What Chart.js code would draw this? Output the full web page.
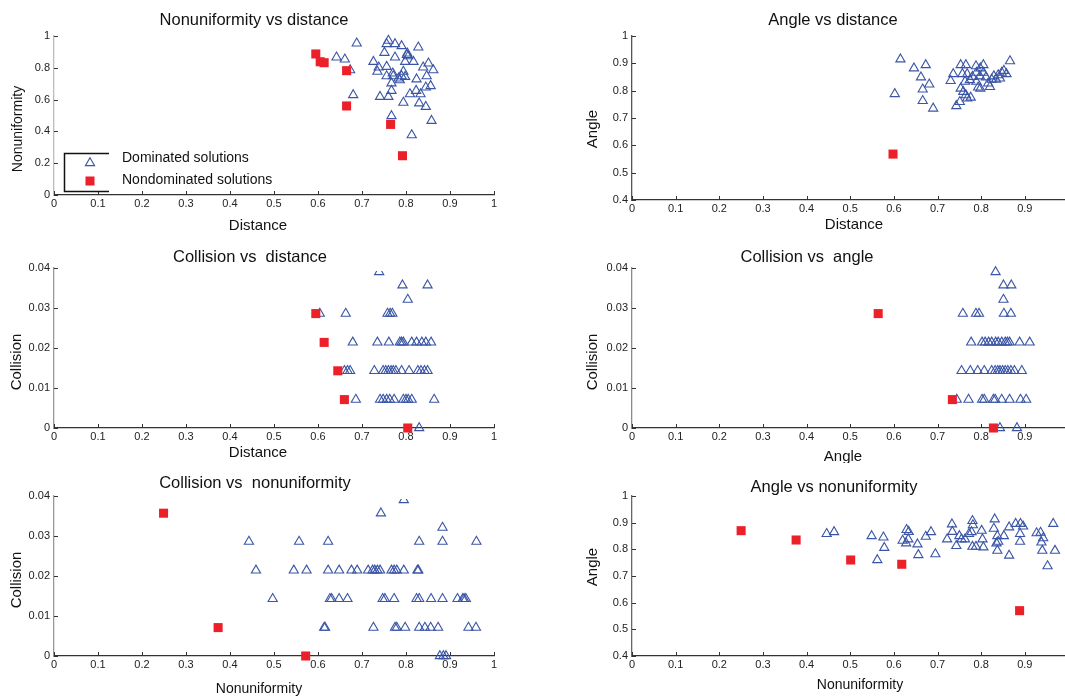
<!DOCTYPE html>
<html><head><meta charset="utf-8">
<script src="https://cdn.jsdelivr.net/npm/chart.js@4.4.0/dist/chart.umd.min.js"></script>
<style>
html,body{margin:0;padding:0;background:#fff;}
body{width:1065px;height:696px;position:relative;overflow:hidden;}
canvas{position:absolute;}
</style></head><body>
<canvas id="c1"></canvas><canvas id="c2"></canvas><canvas id="c3"></canvas>
<canvas id="c4"></canvas><canvas id="c5"></canvas><canvas id="c6"></canvas>
<script>
// ---------- tick values & labels ----------
const unitTicks = [0,0.1,0.2,0.3,0.4,0.5,0.6,0.7,0.8,0.9,1];
const unitTickLabels = ['0','0.1','0.2','0.3','0.4','0.5','0.6','0.7','0.8','0.9','1'];
const rightXTicks = [0,0.1,0.2,0.3,0.4,0.5,0.6,0.7,0.8,0.9];
const rightXTickLabels = ['0','0.1','0.2','0.3','0.4','0.5','0.6','0.7','0.8','0.9'];
const angleTicks = [0.4,0.5,0.6,0.7,0.8,0.9,1];
const angleTickLabels = ['0.4','0.5','0.6','0.7','0.8','0.9','1'];
const unitYTicks = [0,0.2,0.4,0.6,0.8,1];
const unitYTickLabels = ['0','0.2','0.4','0.6','0.8','1'];
const collTicks = [0,0.01,0.02,0.03,0.04];
const collTickLabels = ['0','0.01','0.02','0.03','0.04'];
const seriesNames = ['Dominated solutions','Nondominated solutions'];

// ---------- Nonuniformity vs distance : [distance, nonuniformity] ----------
const nudDominated = [[0.688,0.954],[0.760,0.971],[0.756,0.950],[0.775,0.950],[0.790,0.937],[0.828,0.929],
 [0.751,0.895],[0.775,0.866],[0.803,0.891],[0.805,0.874],[0.802,0.881],[0.817,0.838],[0.642,0.866],
 [0.661,0.853],[0.673,0.786],[0.726,0.838],[0.738,0.803],[0.735,0.776],[0.756,0.807],[0.771,0.748],
 [0.756,0.748],[0.767,0.703],[0.783,0.734],[0.790,0.748],[0.794,0.776],[0.767,0.656],[0.760,0.618],
 [0.741,0.618],[0.680,0.629],[0.824,0.728],[0.851,0.828],[0.839,0.803],[0.862,0.786],[0.847,0.748],
 [0.856,0.686],[0.845,0.677],[0.823,0.656],[0.809,0.635],[0.833,0.635],[0.794,0.581],[0.830,0.577],
 [0.845,0.555],[0.767,0.497],[0.858,0.467],[0.813,0.377],[0.798,0.838],[0.786,0.723],[0.798,0.744],[0.770,0.765]];
const nudNondominated = [[0.595,0.887],[0.605,0.838],[0.614,0.832],[0.665,0.782],[0.665,0.560],[0.765,0.444],[0.792,0.247]];

// ---------- Angle vs distance : [distance, angle] ----------
const advDominated = [[0.615,0.915],[0.646,0.882],[0.673,0.894],[0.662,0.849],[0.681,0.823],[0.666,0.805],
 [0.602,0.788],[0.666,0.763],[0.690,0.735],[0.743,0.744],[0.768,0.772],[0.736,0.861],[0.730,0.836],
 [0.753,0.894],[0.765,0.894],[0.788,0.890],[0.805,0.894],[0.866,0.908],[0.753,0.808],[0.759,0.796],
 [0.765,0.784],[0.776,0.775],[0.757,0.861],[0.768,0.861],[0.763,0.833],[0.774,0.839],[0.780,0.851],
 [0.789,0.866],[0.798,0.882],[0.797,0.853],[0.805,0.866],[0.811,0.849],[0.798,0.808],[0.789,0.833],
 [0.816,0.827],[0.824,0.841],[0.829,0.853],[0.839,0.857],[0.847,0.866],[0.852,0.873],[0.858,0.861],
 [0.834,0.841],[0.820,0.814],[0.843,0.845],[0.751,0.759],[0.793,0.812]];
const advNondominated = [[0.598,0.568]];

// ---------- Collision vs distance : [distance, collision] ----------
const cdDominated = [[0.739,0.0390],[0.792,0.0357],[0.849,0.0357],[0.804,0.0321],
 [0.604,0.0286],[0.663,0.0286],[0.758,0.0286],[0.764,0.0286],[0.769,0.0286],
 [0.679,0.0214],[0.735,0.0214],[0.761,0.0214],[0.786,0.0214],[0.790,0.0214],[0.794,0.0214],[0.813,0.0214],
 [0.824,0.0214],[0.836,0.0214],[0.845,0.0214],[0.857,0.0214],
 [0.660,0.0143],[0.667,0.0143],[0.673,0.0143],[0.728,0.0143],[0.748,0.0143],[0.754,0.0143],[0.760,0.0143],
 [0.766,0.0143],[0.771,0.0143],[0.777,0.0143],[0.790,0.0143],[0.807,0.0143],[0.827,0.0143],[0.834,0.0143],
 [0.842,0.0143],[0.849,0.0143],
 [0.686,0.0071],[0.741,0.0071],[0.748,0.0071],[0.756,0.0071],[0.763,0.0071],[0.773,0.0071],[0.794,0.0071],
 [0.800,0.0071],[0.805,0.0071],[0.813,0.0071],[0.864,0.0071],
 [0.830,0]];
const cdNondominated = [[0.595,0.0286],[0.614,0.0214],[0.645,0.0143],[0.660,0.0071],[0.804,0]];

// ---------- Collision vs angle : [angle, collision] ----------
const caDominated = [[0.833,0.0390],[0.851,0.0357],[0.869,0.0357],[0.851,0.0321],
 [0.758,0.0286],[0.788,0.0286],[0.795,0.0286],[0.852,0.0286],[0.868,0.0286],
 [0.777,0.0214],[0.802,0.0214],[0.809,0.0214],[0.817,0.0214],[0.824,0.0214],[0.833,0.0214],[0.839,0.0214],
 [0.847,0.0214],[0.855,0.0214],[0.860,0.0214],[0.865,0.0214],[0.888,0.0214],[0.911,0.0214],
 [0.755,0.0143],[0.775,0.0143],[0.792,0.0143],[0.807,0.0143],[0.824,0.0143],[0.832,0.0143],[0.838,0.0143],
 [0.843,0.0143],[0.849,0.0143],[0.855,0.0143],[0.861,0.0143],[0.868,0.0143],[0.876,0.0143],[0.893,0.0143],
 [0.744,0.0071],[0.771,0.0071],[0.802,0.0071],[0.807,0.0071],[0.828,0.0071],[0.832,0.0071],[0.847,0.0071],
 [0.865,0.0071],[0.890,0.0071],[0.903,0.0071],
 [0.843,0],[0.882,0]];
const caNondominated = [[0.564,0.0286],[0.734,0.0071],[0.828,0]];

// ---------- Collision vs nonuniformity : [nonuniformity, collision] ----------
const cnDominated = [[0.795,0.0390],[0.743,0.0357],[0.883,0.0321],
 [0.443,0.0286],[0.557,0.0286],[0.623,0.0286],[0.830,0.0286],[0.883,0.0286],[0.960,0.0286],
 [0.459,0.0214],[0.545,0.0214],[0.574,0.0214],[0.623,0.0214],[0.648,0.0214],[0.676,0.0214],[0.689,0.0214],
 [0.714,0.0214],[0.724,0.0214],[0.729,0.0214],[0.735,0.0214],[0.741,0.0214],[0.767,0.0214],[0.773,0.0214],
 [0.779,0.0214],[0.795,0.0214],[0.826,0.0214],[0.828,0.0214],
 [0.497,0.0143],[0.627,0.0143],[0.631,0.0143],[0.648,0.0143],[0.667,0.0143],[0.747,0.0143],[0.752,0.0143],
 [0.773,0.0143],[0.824,0.0143],[0.830,0.0143],[0.857,0.0143],[0.883,0.0143],[0.917,0.0143],[0.929,0.0143],
 [0.932,0.0143],[0.936,0.0143],
 [0.614,0.0071],[0.616,0.0071],[0.726,0.0071],[0.775,0.0071],[0.779,0.0071],[0.798,0.0071],[0.830,0.0071],
 [0.843,0.0071],[0.856,0.0071],[0.873,0.0071],[0.942,0.0071],[0.959,0.0071],
 [0.877,0],[0.885,0],[0.891,0]];
const cnNondominated = [[0.249,0.0357],[0.373,0.0071],[0.572,0]];

// ---------- Angle vs nonuniformity : [nonuniformity, angle] ----------
const anDominated = [[0.446,0.858],[0.463,0.865],[0.549,0.850],[0.576,0.845],[0.578,0.806],[0.562,0.760],
 [0.629,0.873],[0.634,0.866],[0.620,0.833],[0.628,0.823],[0.633,0.838],[0.654,0.819],[0.656,0.779],
 [0.673,0.848],[0.685,0.865],[0.695,0.782],[0.722,0.838],[0.733,0.894],[0.734,0.866],[0.743,0.813],
 [0.750,0.850],[0.755,0.838],[0.763,0.838],[0.772,0.858],[0.780,0.907],[0.781,0.891],[0.778,0.865],
 [0.780,0.810],[0.788,0.810],[0.801,0.870],[0.803,0.838],[0.805,0.808],[0.831,0.913],[0.829,0.878],
 [0.837,0.850],[0.839,0.829],[0.835,0.823],[0.837,0.795],[0.852,0.850],[0.864,0.883],[0.864,0.777],
 [0.879,0.896],[0.890,0.896],[0.896,0.886],[0.889,0.858],[0.889,0.829],[0.927,0.861],[0.936,0.863],
 [0.938,0.826],[0.940,0.795],[0.952,0.737],[0.965,0.896],[0.969,0.795],[0.942,0.842]];
const anNondominated = [[0.250,0.870],[0.376,0.835],[0.501,0.760],[0.618,0.744],[0.888,0.570]];

// ---------- drawing ----------
const FONT = "'Liberation Sans', Arial, Helvetica, sans-serif";
const BLUE = '#3a55a6';
const RED = '#ec2029';

const panels = [
 {id:'c1', box:[0,0,540,238], area:[54,36,494,195],
  x:{min:0,max:1,vals:unitTicks,labels:unitTickLabels}, y:{min:0,max:1,vals:unitYTicks,labels:unitYTickLabels},
  dom:nudDominated, nd:nudNondominated, title:'Nonuniformity vs distance', tp:[254,20],
  xl:'Distance', xp:[258,226], xs:15, yl:'Nonuniformity', yp:[18,129], ys:14, legend:true, yBorder:'#bdbdbd'},
 {id:'c2', box:[540,0,525,238], area:[632,36,1065,200],
  x:{min:0,max:0.992,vals:rightXTicks,labels:rightXTickLabels}, y:{min:0.4,max:1,vals:angleTicks,labels:angleTickLabels},
  dom:advDominated, nd:advNondominated, title:'Angle vs distance', tp:[833,20],
  xl:'Distance', xp:[854,225], xs:15, yl:'Angle', yp:[593,129], ys:15, yBorder:'#555'},
 {id:'c3', box:[0,238,540,225], area:[54,268,494,428],
  x:{min:0,max:1,vals:unitTicks,labels:unitTickLabels}, y:{min:0,max:0.04,vals:collTicks,labels:collTickLabels},
  dom:cdDominated, nd:cdNondominated, title:'Collision vs  distance', tp:[250,257],
  xl:'Distance', xp:[258,453], xs:15, yl:'Collision', yp:[17,362], ys:15, clipTop:true, yBorder:'#999'},
 {id:'c4', box:[540,238,525,225], area:[632,268,1065,428],
  x:{min:0,max:0.992,vals:rightXTicks,labels:rightXTickLabels}, y:{min:0,max:0.04,vals:collTicks,labels:collTickLabels},
  dom:caDominated, nd:caNondominated, title:'Collision vs  angle', tp:[807,257],
  xl:'Angle', xp:[843,457], xs:15, yl:'Collision', yp:[593,362], ys:15, yBorder:'#8a8a8a'},
 {id:'c5', box:[0,463,540,233], area:[54,496,494,656],
  x:{min:0,max:1,vals:unitTicks,labels:unitTickLabels}, y:{min:0,max:0.04,vals:collTicks,labels:collTickLabels},
  dom:cnDominated, nd:cnNondominated, title:'Collision vs  nonuniformity', tp:[255,483],
  xl:'Nonuniformity', xp:[259,689], xs:14, yl:'Collision', yp:[17,580], ys:15, clipTop:true, yBorder:'#999'},
 {id:'c6', box:[540,463,525,233], area:[632,496,1065,656],
  x:{min:0,max:0.992,vals:rightXTicks,labels:rightXTickLabels}, y:{min:0.4,max:1,vals:angleTicks,labels:angleTickLabels},
  dom:anDominated, nd:anNondominated, title:'Angle vs nonuniformity', tp:[834,487],
  xl:'Nonuniformity', xp:[860,685], xs:14, yl:'Angle', yp:[593,567], ys:15, yBorder:'#666'}
];

function tri(ctx, x, y, r){
  ctx.beginPath();
  ctx.moveTo(x, y - r);
  ctx.lineTo(x + r*Math.sqrt(3)/2, y + r/2);
  ctx.lineTo(x - r*Math.sqrt(3)/2, y + r/2);
  ctx.closePath();
  ctx.stroke();
}

const panelPlugin = {
  id:'panelText',
  beforeDatasetsDraw(chart){
    const p = chart.options.plugins.panelText.p;
    const ctx = chart.ctx, xs = chart.scales.x, ys = chart.scales.y;
    const a = chart.chartArea;
    ctx.save();
    ctx.strokeStyle = '#333'; ctx.lineWidth = 1;
    p.x.vals.forEach(v => { const px = Math.round(xs.getPixelForValue(v)) + 0.5;
      ctx.beginPath(); ctx.moveTo(px, a.bottom); ctx.lineTo(px, a.bottom - 4); ctx.stroke(); });
    p.y.vals.forEach(v => { const py = Math.round(ys.getPixelForValue(v)) + 0.5;
      ctx.beginPath(); ctx.moveTo(a.left, py); ctx.lineTo(a.left + 4, py); ctx.stroke(); });
    ctx.restore();
  },
  afterDraw(chart){
    const p = chart.options.plugins.panelText.p;
    const ctx = chart.ctx, ox = p.box[0], oy = p.box[1];
    ctx.save();
    ctx.fillStyle = '#111';
    ctx.textAlign = 'center'; ctx.textBaseline = 'middle';
    ctx.font = `16.5px ${FONT}`;
    ctx.fillText(p.title, p.tp[0]-ox, p.tp[1]-oy);
    ctx.font = `${p.xs}px ${FONT}`;
    ctx.fillText(p.xl, p.xp[0]-ox, p.xp[1]-oy);
    ctx.save();
    ctx.translate(p.yp[0]-ox, p.yp[1]-oy); ctx.rotate(-Math.PI/2);
    ctx.font = `${p.ys}px ${FONT}`;
    ctx.fillText(p.yl, 0, 0);
    ctx.restore();
    if (p.legend){
      ctx.strokeStyle = '#111'; ctx.lineWidth = 1.5;
      ctx.beginPath(); ctx.moveTo(109,153.5); ctx.lineTo(64.5,153.5); ctx.lineTo(64.5,191.5); ctx.lineTo(109,191.5); ctx.stroke();
      ctx.strokeStyle = BLUE; ctx.lineWidth = 1.1;
      tri(ctx, 90, 163, 5.3);
      ctx.fillStyle = RED; ctx.fillRect(85.5, 176.5, 9, 9);
      ctx.fillStyle = '#111'; ctx.textAlign = 'left'; ctx.font = `14px ${FONT}`;
      ctx.fillText(seriesNames[0], 122, 158);
      ctx.fillText(seriesNames[1], 122, 180);
    }
    ctx.restore();
  }
};

panels.forEach(p => {
  const cv = document.getElementById(p.id);
  const [L,T,W,H] = p.box;
  cv.width = W; cv.height = H;
  cv.style.left = L+'px'; cv.style.top = T+'px';
  cv.style.width = W+'px'; cv.style.height = H+'px';
  const g = {aL:p.area[0]-L, aT:p.area[1]-T, aR:p.area[2]-L, aB:p.area[3]-T};
  const fit = {yW:g.aL, xH:H-g.aB};
  const tickFont = {family:FONT, size:11};
  new Chart(cv, {
    type:'scatter',
    data:{datasets:[
      {label:seriesNames[0], data:p.dom.map(d=>({x:d[0],y:d[1]})), pointStyle:'triangle',
       pointRadius:5.3, pointHoverRadius:5.3, borderColor:BLUE, backgroundColor:'rgba(0,0,0,0)',
       borderWidth:1.1, order:2, clip: p.clipTop ? {left:false, right:false, bottom:false, top:-3} : false},
      {label:seriesNames[1], data:p.nd.map(d=>({x:d[0],y:d[1]})), pointStyle:'rect',
       pointRadius:6.4, pointHoverRadius:6.4, backgroundColor:RED, borderColor:RED, borderWidth:0, order:1, clip:false}
    ]},
    options:{
      responsive:false, animation:false, events:[], devicePixelRatio:1,
      layout:{autoPadding:false, padding:{left:0, top:g.aT, right:W-g.aR, bottom:0}},
      plugins:{legend:{display:false}, tooltip:{enabled:false}, title:{display:false}, panelText:{p}},
      scales:{
        x:{type:'linear', min:p.x.min, max:p.x.max, grid:{display:false, drawTicks:false},
           border:{display:true, color:'#333', width:1.3},
           ticks:{font:tickFont, color:'#222', padding:2, autoSkip:false, maxRotation:0,
                  callback:(v,i)=>p.x.labels[i]},
           afterBuildTicks:s=>{ s.ticks = p.x.vals.map(v=>({value:v})); },
           afterFit:s=>{ s.height = fit.xH; s.paddingLeft = 0; s.paddingRight = 0; }},
        y:{type:'linear', min:p.y.min, max:p.y.max, grid:{display:false, drawTicks:false},
           border:{display:true, color:p.yBorder, width:1.3},
           ticks:{font:tickFont, color:'#222', padding:4, autoSkip:false,
                  callback:(v,i)=>p.y.labels[i]},
           afterBuildTicks:s=>{ s.ticks = p.y.vals.map(v=>({value:v})); },
           afterFit:s=>{ s.width = fit.yW; }}
      }
    },
    plugins:[panelPlugin]
  });
});
</script>
</body></html>
